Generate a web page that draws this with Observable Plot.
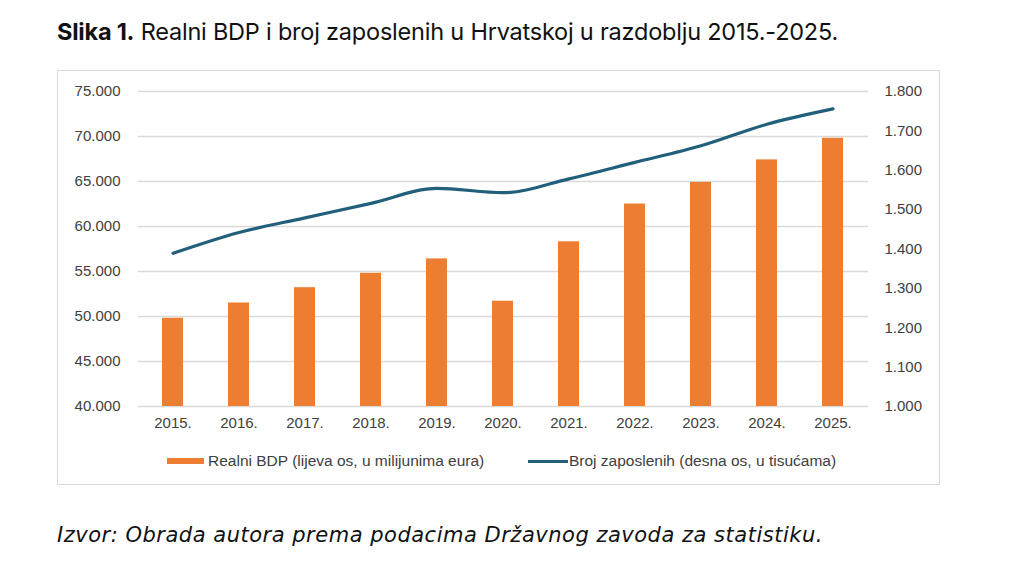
<!DOCTYPE html>
<html>
<head>
<meta charset="utf-8">
<script src="https://cdn.jsdelivr.net/npm/d3@7"></script>
<script src="https://cdn.jsdelivr.net/npm/@observablehq/plot@0.6"></script>
<style>
  html, body { margin: 0; padding: 0; background: #fff; }
  body { width: 1024px; height: 574px; position: relative; overflow: hidden; }
  #title { position: absolute; left: 57px; top: 17px; font-family: Inter, "Noto Sans", sans-serif; font-size: 23.5px; color: #111; white-space: nowrap; }
  #title b { font-weight: 700; }
  #box { position: absolute; left: 57px; top: 70px; width: 881px; height: 413px; border: 1px solid #d9d9d9; background: #fff; }
  #chart { position: absolute; left: 0; top: 0; }
  .leg { position: absolute; top: 381px; font-family: "Liberation Sans", Arial, sans-serif; font-size: 15.5px; color: #404040; white-space: nowrap; display: flex; align-items: center; }
  .sw-bar { width: 37px; height: 6px; background: #ED7D31; margin-right: 4px; }
  .sw-line { width: 40px; height: 3px; background: #215F7A; margin-right: 1px; }
  #caption { position: absolute; left: 57px; top: 523px; font-family: "DejaVu Sans", sans-serif; font-style: italic; font-size: 21px; color: #111; white-space: nowrap; }
</style>
</head>
<body>
<div id="title"><b>Slika 1.</b> Realni BDP i broj zaposlenih u Hrvatskoj u razdoblju 2015.-2025.</div>
<div id="box">
  <div id="chart"></div>
  <div class="leg" style="left:109px"><div class="sw-bar"></div>Realni BDP (lijeva os, u milijunima eura)</div>
  <div class="leg" style="left:470px"><div class="sw-line"></div>Broj zaposlenih (desna os, u tisućama)</div>
</div>
<div id="caption">Izvor: Obrada autora prema podacima Državnog zavoda za statistiku.</div>
<script>
// Years on the category axis
const years = ["2015.", "2016.", "2017.", "2018.", "2019.", "2020.", "2021.", "2022.", "2023.", "2024.", "2025."];
// Real GDP, million EUR (left axis)
const gdp = [49800, 51500, 53200, 54800, 56400, 51700, 58300, 62500, 64900, 67400, 69800];
// Employed persons, thousands (right axis)
const employed = [1389, 1442, 1479, 1516, 1554, 1543, 1578, 1620, 1662, 1717, 1756];
// Axis ticks
const leftTicks = [40000, 45000, 50000, 55000, 60000, 65000, 70000, 75000];
const rightTicks = [1000, 1100, 1200, 1300, 1400, 1500, 1600, 1700, 1800];

const leftDomain = [40000, 75000];
const rightDomain = [1000, 1800];
// map a right-axis value onto the left-axis scale
const toLeft = v => leftDomain[0] + (v - rightDomain[0]) * (leftDomain[1] - leftDomain[0]) / (rightDomain[1] - rightDomain[0]);

const fmt = d3.formatLocale({decimal: ",", thousands: ".", grouping: [3], currency: ["", ""]}).format(",d");

const rows = years.map((y, i) => ({year: y, gdp: gdp[i], emp: employed[i]}));

const axisStyle = {fontSize: 15, fill: "#404040"};

const chart = Plot.plot({
  width: 881,
  height: 372,
  marginTop: 20,
  marginBottom: 37,
  marginLeft: 80,
  marginRight: 71,
  style: {fontFamily: "'Liberation Sans', Arial, sans-serif", fontSize: "15px", color: "#404040", background: "transparent"},
  x: {domain: years, paddingInner: 0.68, paddingOuter: 0.34, label: null},
  y: {domain: leftDomain, label: null},
  marks: [
    Plot.gridY(leftTicks, {stroke: "#d9d9d9", strokeOpacity: 1, strokeWidth: 1.3}),
    Plot.barY(rows, {x: "year", y1: leftDomain[0], y2: "gdp", fill: "#ED7D31"}),
    Plot.line(rows, {x: "year", y: d => toLeft(d.emp), stroke: "#215F7A", strokeWidth: 3.2, curve: "monotone-x"}),
    Plot.axisY(leftTicks, {anchor: "left", tickSize: 0, tickPadding: 18, tickFormat: fmt, label: null, ...axisStyle}),
    Plot.axisY(rightTicks.map(toLeft), {anchor: "right", tickSize: 0, tickPadding: 16, tickFormat: (d, i) => fmt(rightTicks[i]), label: null, ...axisStyle}),
    Plot.axisX({tickSize: 0, tickPadding: 11, label: null, ...axisStyle})
  ]
});
document.getElementById("chart").append(chart);

// stretch the heading and source line to their set widths
function fitWidth(id, target) {
  const el = document.getElementById(id);
  const n = el.textContent.length;
  const w = el.getBoundingClientRect().width;
  el.style.letterSpacing = ((target - w) / n) + "px";
}
fitWidth("title", 781);
fitWidth("caption", 766);
</script>
</body>
</html>
